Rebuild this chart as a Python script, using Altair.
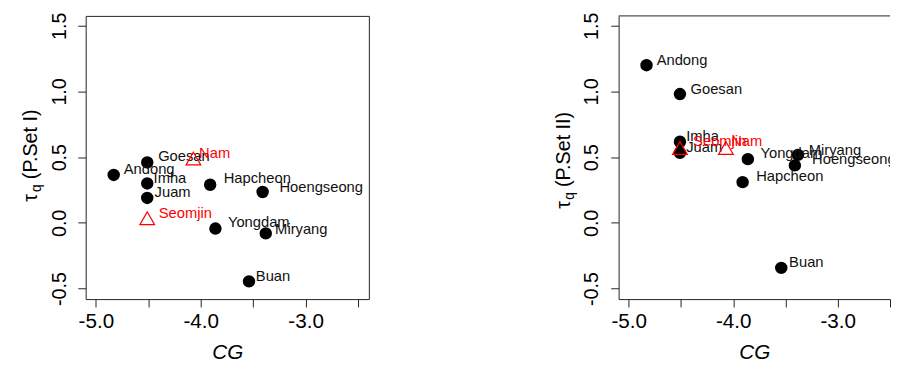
import altair as alt
import pandas as pd

# ---------------- data ----------------
stations = ["Andong", "Goesan", "Imha", "Juam", "Nam", "Seomjin",
            "Hapcheon", "Hoengseong", "Yongdam", "Miryang", "Buan"]
marker = ["circle", "circle", "circle", "circle", "triangle", "triangle",
          "circle", "circle", "circle", "circle", "circle"]
cg = [-4.83, -4.51, -4.51, -4.51, -4.07, -4.51, -3.91, -3.41, -3.86, -3.38, -3.54]

tau_set1 = [0.365, 0.46, 0.30, 0.19, 0.49, 0.035, 0.29, 0.235, -0.043, -0.08, -0.445]
tau_set2 = [1.20, 0.98, 0.6175, 0.5325, 0.57, 0.57, 0.31, 0.4375, 0.485, 0.5175, -0.3425]

# label anchor positions (data units) as placed in the original figure
label_x_set1 = [-4.734, -4.406, -4.45, -4.44, -4.016, -4.40, -3.781, -3.25, -3.741, -3.291, -3.475]
label_y_set1 = [0.4125, 0.5075, 0.3425, 0.2325, 0.5325, 0.0725, 0.3375, 0.275, 0.005, -0.045, -0.405]
label_x_set2 = [-4.733, -4.409, -4.45, -4.45, -4.02, -4.384, -3.78, -3.245, -3.739, -3.277, -3.465]
label_y_set2 = [1.2425, 1.02, 0.6625, 0.575, 0.625, 0.625, 0.355, 0.4825, 0.5325, 0.5525, -0.30]

x_ticks = [-5.0, -4.5, -4.0, -3.5, -3.0, -2.5]
y_ticks = [-0.5, 0.0, 0.5, 1.0, 1.5]
x_title = "CG"
y_titles = ["(P.Set I)", "(P.Set II)"]

FONT = "Liberation Sans"
RED = "#FF0000"
FRAME = "#222"
PH = 288  # plot height


def panel(tau, lx, ly, ytitle, width, xmax, boxed, tau_pos):
    df = pd.DataFrame(dict(station=stations, marker=marker, cg=cg, tau=tau, lx=lx, ly=ly))
    xs = alt.Scale(domain=[-5.097, xmax], nice=False, zero=False)
    ys = alt.Scale(domain=[-0.58, 1.575], nice=False, zero=False)
    xaxis = alt.Axis(values=x_ticks,
                     labelExpr="datum.value % 1 == 0 ? replace(format(datum.value, '.1f'), '\u2212', '-') : ''",
                     title=x_title, grid=False, domain=not boxed, domainColor=FRAME,
                     tickSize=8, tickColor=FRAME, labelFontSize=21, labelFont=FONT,
                     labelColor="black", labelPadding=4, labelFlush=False, labelOverlap=False,
                     titleFontSize=21, titleFont=FONT, titleFontStyle="italic",
                     titleFontWeight="normal", titleColor="black", titlePadding=10)
    yaxis = alt.Axis(values=y_ticks,
                     labelExpr="replace(format(datum.value, '.1f'), '\u2212', '-')",
                     grid=False, domain=not boxed, domainColor=FRAME,
                     tickSize=8, tickColor=FRAME, labelFontSize=20, labelFont=FONT,
                     labelColor="black", labelAngle=270, labelAlign="center",
                     labelBaseline="alphabetic", labelPadding=13, labelFlush=False,
                     labelOverlap=False)

    def xy(xf, yf):
        return dict(x=alt.X(f"{xf}:Q", scale=xs, axis=xaxis, title=x_title),
                    y=alt.Y(f"{yf}:Q", scale=ys, axis=yaxis, title=None))

    base = alt.Chart(df)
    circles = base.transform_filter("datum.marker == 'circle'").mark_point(
        shape="circle", filled=True, size=160, color="black", opacity=1).encode(**xy("cg", "tau"))
    black_lab = base.transform_filter("datum.marker == 'circle'").mark_text(
        align="left", baseline="middle", fontSize=15, font=FONT, color="#111", clip=True
    ).encode(text="station:N", **xy("lx", "ly"))
    tris = base.transform_filter("datum.marker == 'triangle'").mark_point(
        shape="triangle-up", filled=False, size=225, color=RED, strokeWidth=1.2, opacity=1
    ).encode(**xy("cg", "tau"))
    red_lab = base.transform_filter("datum.marker == 'triangle'").mark_text(
        align="left", baseline="middle", fontSize=15, font=FONT, color=RED, clip=True
    ).encode(text="station:N", **xy("lx", "ly"))

    # y-axis title: tau with subscript q, then the parameter-set name
    t_tau, t_q, t_txt = tau_pos
    tdf = pd.DataFrame({"t": ["\u03c4"]})
    qdf = pd.DataFrame({"t": ["q"]})
    pdf = pd.DataFrame({"t": [ytitle]})
    tau_t = alt.Chart(tdf).mark_text(align="left", baseline="alphabetic", angle=270,
                                     fontSize=20, font=FONT, color="black").encode(
        text="t:N", x=alt.value(-49), y=alt.value(t_tau))
    q_t = alt.Chart(qdf).mark_text(align="left", baseline="alphabetic", angle=270,
                                   fontSize=14, font=FONT, color="black").encode(
        text="t:N", x=alt.value(-45), y=alt.value(t_q))
    p_t = alt.Chart(pdf).mark_text(align="left", baseline="alphabetic", angle=270,
                                   fontSize=20, font=FONT, color="black").encode(
        text="t:N", x=alt.value(-49), y=alt.value(t_txt))

    layers = [circles, black_lab, tris, red_lab, tau_t, q_t, p_t]
    if not boxed:
        top = alt.Chart(pd.DataFrame({"a": [0]})).mark_rule(color=FRAME, strokeWidth=1).encode(
            x=alt.value(0), x2=alt.value(width), y=alt.value(0))
        layers.append(top)
        ch = alt.layer(*layers).properties(width=width, height=PH,
                                           view=alt.ViewBackground(strokeOpacity=0))
    else:
        ch = alt.layer(*layers).properties(width=width, height=PH,
                                           view=alt.ViewBackground(stroke=FRAME, strokeWidth=1))
    return ch


left = panel(tau_set1, label_x_set1, label_y_set1, y_titles[0], 288, -2.397, True, (189, 179, 166))
right = panel(tau_set2, label_x_set2, label_y_set2, y_titles[1], 276, -2.499, False, (196, 187, 174))

chart = alt.hconcat(left, right, spacing=188).properties(
    padding={"left": 13, "top": 0, "right": 0, "bottom": 0},
    background="white",
).configure(font=FONT, view=alt.ViewConfig(stroke=FRAME, strokeWidth=1))

chart.save("out.html", embed_options={"renderer": "svg", "actions": False})
